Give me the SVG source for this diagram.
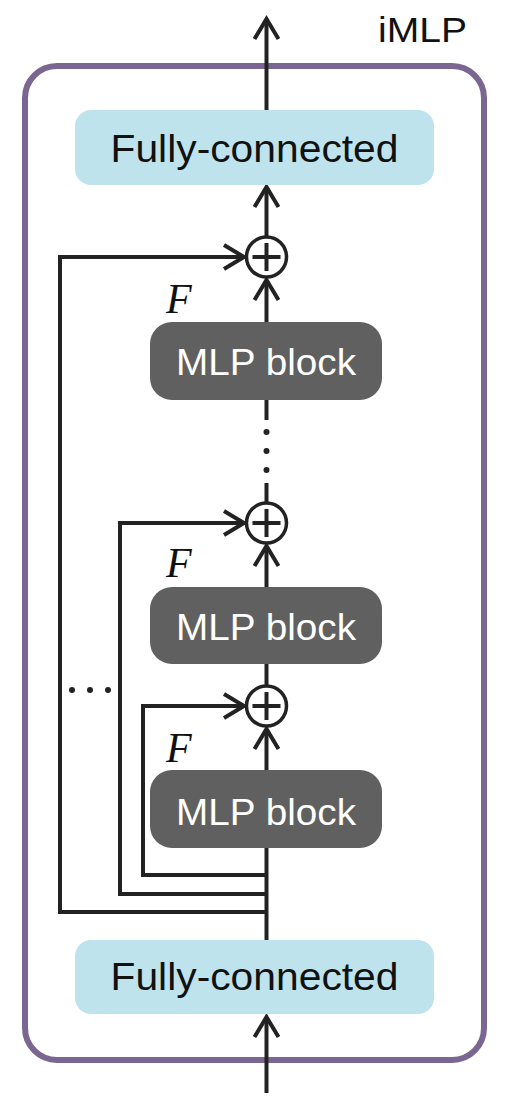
<svg xmlns="http://www.w3.org/2000/svg" width="514" height="1116" viewBox="0 0 514 1116">
<style>
.fc{fill:#bee3ec}
.mlp{fill:#606060}
.ln{fill:none;stroke:#222;stroke-width:4;stroke-linejoin:miter}
.t{font-family:"Liberation Sans",Arial,sans-serif}
.fct{font-size:38px;fill:#111}
.mlpt{font-size:37px;fill:#fff}
.f{font-family:"Liberation Serif","Times New Roman",serif;font-style:italic;font-size:42px;fill:#111}
.dot{fill:#222}
</style>
<defs>
<marker id="ah" markerUnits="userSpaceOnUse" markerWidth="30" markerHeight="30" viewBox="-24 -15 30 30" refX="0" refY="0" orient="auto">
<path d="M-20,-12 L0,0 L-20,12" fill="none" stroke="#222" stroke-width="4"/>
</marker>
</defs>
<rect x="25" y="66" width="459" height="994" rx="32" fill="#fff" stroke="#7a6690" stroke-width="6"/>
<text class="t" x="378" y="42" font-size="35" fill="#111" textLength="89" lengthAdjust="spacingAndGlyphs">iMLP</text>
<g id="connectors">
<path class="ln" d="M266.5,110 L266.5,19" marker-end="url(#ah)"/>
<path class="ln" d="M266.5,237 L266.5,187" marker-end="url(#ah)"/>
<path class="ln" d="M266.5,322 L266.5,280" marker-end="url(#ah)"/>
<path class="ln" d="M266.5,400 L266.5,420"/>
<circle class="dot" cx="266.5" cy="432" r="3"/>
<circle class="dot" cx="266.5" cy="451" r="3"/>
<circle class="dot" cx="266.5" cy="470" r="3"/>
<path class="ln" d="M266.5,483 L266.5,503"/>
<path class="ln" d="M266.5,587 L266.5,546" marker-end="url(#ah)"/>
<path class="ln" d="M266.5,664 L266.5,686"/>
<path class="ln" d="M266.5,770 L266.5,729" marker-end="url(#ah)"/>
<path class="ln" d="M266.5,848 L266.5,940"/>
<path class="ln" d="M266.5,1093 L266.5,1017" marker-end="url(#ah)"/>
<path class="ln" d="M266.5,912 L60,912 L60,257 L244,257" marker-end="url(#ah)"/>
<path class="ln" d="M266.5,894 L120,894 L120,523 L244,523" marker-end="url(#ah)"/>
<path class="ln" d="M266.5,875 L143,875 L143,706 L244,706" marker-end="url(#ah)"/>
<circle class="dot" cx="72" cy="690" r="3"/>
<circle class="dot" cx="90" cy="690" r="3"/>
<circle class="dot" cx="108" cy="690" r="3"/>
</g>
<g id="fc_top">
<rect class="fc" x="75" y="110" width="359" height="75" rx="16"/>
<text class="t fct" x="254.5" y="162" text-anchor="middle" textLength="288" lengthAdjust="spacingAndGlyphs">Fully-connected</text>
</g>
<g id="plus1">
<circle cx="266.5" cy="257" r="20" fill="#fff" stroke="#222" stroke-width="3.5"/>
<path d="M252.5,257 H280.5 M266.5,243 V271" stroke="#222" stroke-width="4"/>
</g>
<g id="plus2">
<circle cx="266.5" cy="523" r="20" fill="#fff" stroke="#222" stroke-width="3.5"/>
<path d="M252.5,523 H280.5 M266.5,509 V537" stroke="#222" stroke-width="4"/>
</g>
<g id="plus3">
<circle cx="266.5" cy="706" r="20" fill="#fff" stroke="#222" stroke-width="3.5"/>
<path d="M252.5,706 H280.5 M266.5,692 V720" stroke="#222" stroke-width="4"/>
</g>
<g id="mlp1">
<rect class="mlp" x="150" y="322" width="232" height="78" rx="22"/>
<text class="t mlpt" x="266" y="375" text-anchor="middle" textLength="180" lengthAdjust="spacingAndGlyphs">MLP block</text>
<text class="f" x="166" y="313">F</text>
</g>
<g id="mlp2">
<rect class="mlp" x="150" y="587" width="232" height="77" rx="22"/>
<text class="t mlpt" x="266" y="640" text-anchor="middle" textLength="180" lengthAdjust="spacingAndGlyphs">MLP block</text>
<text class="f" x="166" y="577">F</text>
</g>
<g id="mlp3">
<rect class="mlp" x="150" y="770" width="232" height="78" rx="22"/>
<text class="t mlpt" x="266" y="825" text-anchor="middle" textLength="180" lengthAdjust="spacingAndGlyphs">MLP block</text>
<text class="f" x="166" y="762">F</text>
</g>
<g id="fc_bottom">
<rect class="fc" x="75" y="940" width="359" height="74" rx="16"/>
<text class="t fct" x="254.5" y="990" text-anchor="middle" textLength="288" lengthAdjust="spacingAndGlyphs">Fully-connected</text>
</g>
</svg>
